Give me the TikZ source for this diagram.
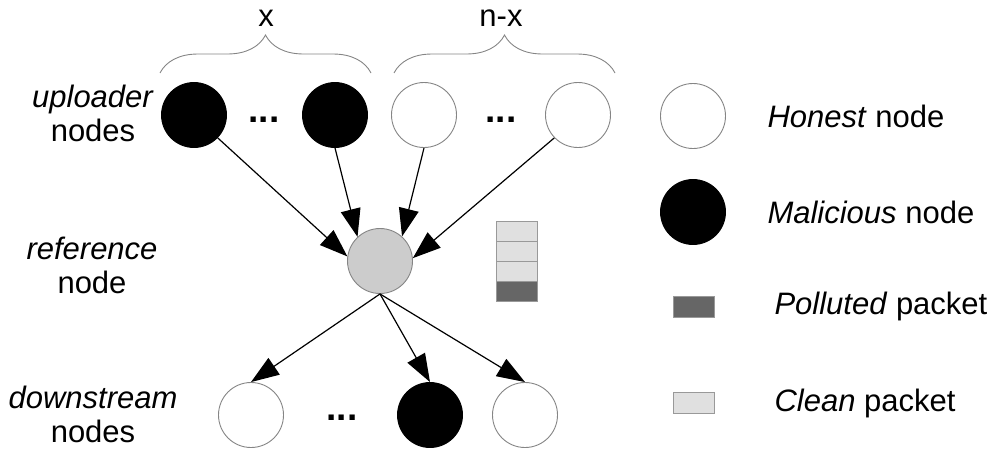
\documentclass[tikz,border=0pt]{standalone}
\usepackage{fontspec}
\setmainfont{Liberation Sans}
\usetikzlibrary{arrows.meta,decorations.pathreplacing}
\definecolor{rimgray}{HTML}{858585}
\definecolor{refgray}{HTML}{CCCCCC}
\definecolor{cleangray}{HTML}{E0E0E0}
\definecolor{pollutedgray}{HTML}{666666}
\definecolor{packetrim}{HTML}{999999}
\tikzset{
  peer/.style={circle, draw=rimgray, line width=0.9pt, minimum size=65pt, inner sep=0pt},
  honest/.style={peer, fill=white},
  malicious/.style={peer, fill=black, draw=black},
  refpeer/.style={peer, fill=refgray},
  flow/.style={-{Triangle[length=28pt,width=20pt]}, line width=1.2pt},
  packet/.style={draw=packetrim, line width=1pt, minimum width=41pt, minimum height=20pt, inner sep=0pt},
  pbrace/.style={draw=rimgray, line width=0.9pt, decorate, decoration={brace, amplitude=38pt}},
  dots/.style={font=\fontsize{37}{40}\bfseries}
}
\begin{document}
\begin{tikzpicture}[x=1pt, y=-1pt, font=\fontsize{31}{34}\selectfont]
    \useasboundingbox (0,0) rectangle (995,455);
    % uploader nodes
    \node[malicious] (u1) at (194,115) {};
    \node[malicious] (u2) at (335,115) {};
    \node[honest] (u3) at (424,115) {};
    \node[honest] (u4) at (578,115) {};
    \node[dots] (du1) at (264,120) {...};
    \node[dots] (du2) at (501,120) {...};
    % braces
    \coordinate (bx1) at (160,73); \coordinate (bx2) at (371,73);
    \coordinate (bnx1) at (394,73); \coordinate (bnx2) at (615,73);
    \draw[pbrace] (bx1) -- (bx2);
    \draw[pbrace] (bnx1) -- (bnx2);
    \node (lx) at (266,18) {x};
    \node (lnx) at (501,18) {n-x};
    % reference node and its packets
    \node[refpeer] (ref) at (380,261) {};
    \foreach \i/\c in {0/cleangray,1/cleangray,2/cleangray,3/pollutedgray}
    \node[packet, fill=\c] (pk\i) at (516.5,231+20*\i) {};
    % downstream nodes
    \node[honest] (d1) at (251,415) {};
    \node[malicious] (d2) at (430,415) {};
    \node[honest] (d3) at (525,415) {};
    \node[dots] (dd) at (342,418) {...};
    % connectors
    \draw[flow] (u1.-44) -- (ref.172);
    \draw[flow] (u2.south) -- (ref.133);
    \draw[flow] (u3.south) -- (ref.48);
    \draw[flow] (u4.-136) -- (ref.5);
    \foreach \d in {d1,d2,d3}
    \draw[flow] (ref.south) -- (\d.north);
    % row labels
    \node[align=center] (lup) at (93,113) {\textit{uploader}\\nodes};
    \node[align=center] (lref) at (92,265) {\textit{reference}\\node};
    \node[align=center] (ldown) at (93,414) {\textit{downstream}\\nodes};
    % legend
    \node[honest] (khon) at (693,116) {};
    \node[malicious] (kmal) at (693,212) {};
    \node[packet, fill=pollutedgray, minimum height=21pt] (kpol) at (693.5,306.5) {};
    \node[packet, fill=cleangray, minimum height=21pt] (kcln) at (693.5,402.5) {};
    \node[anchor=west] (thon) at (764,116) {\textit{Honest} node};
    \node[anchor=west] (tmal) at (764,212) {\textit{Malicious} node};
    \node[anchor=west] (tpol) at (771,306) {\textit{Polluted} packet};
    \node[anchor=west] (tcln) at (771,403) {\textit{Clean} packet};
\end{tikzpicture}
\end{document}
